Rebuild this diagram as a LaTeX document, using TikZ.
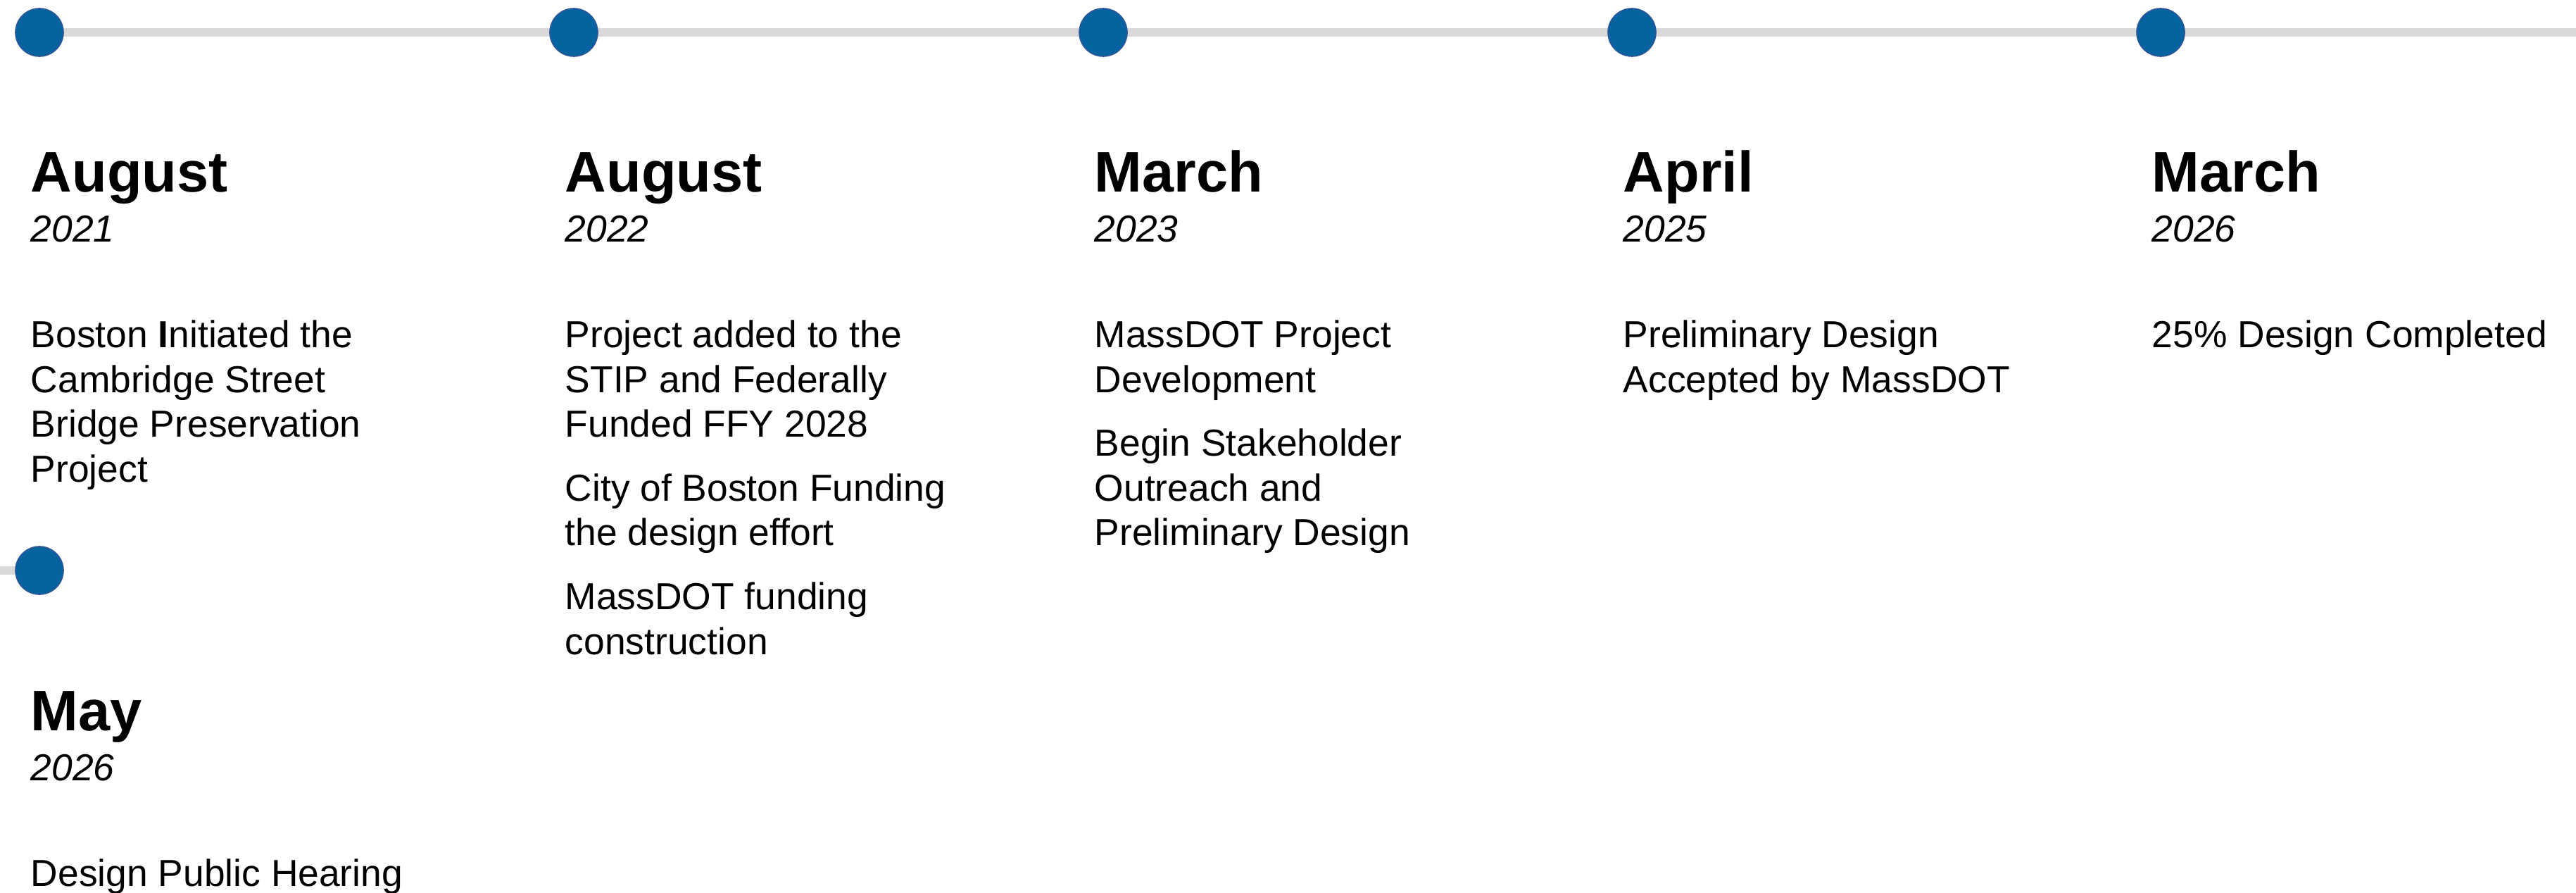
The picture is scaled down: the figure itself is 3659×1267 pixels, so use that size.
\documentclass[tikz,border=0pt]{standalone}
\usepackage{fontspec}
\setmainfont{Liberation Sans}
\usetikzlibrary{backgrounds}
\definecolor{dotblue}{HTML}{05639F}
\definecolor{dotrim}{HTML}{2F5597}
\definecolor{trackgray}{HTML}{D9D9D9}
\tikzset{
  milestone/.style={circle,fill=dotblue,draw=dotrim,line width=0.4pt,minimum size=17pt,inner sep=0pt},
  track/.style={trackgray,line width=3pt},
  month/.style={anchor=base west,inner sep=0pt,font=\fontsize{20.3}{24}\selectfont\bfseries},
  yr/.style={anchor=base west,inner sep=0pt,font=\fontsize{13.35}{16}\selectfont\itshape},
  note/.style={anchor=north west,inner sep=0pt,align=left,font=\fontsize{13.35}{15.9}\selectfont}
}
\begin{document}
\begin{tikzpicture}[x=0.25pt,y=0.25pt]
   \useasboundingbox (0,0) rectangle (3659,1267);
   % milestones
   \node[milestone] (d1) at (56,1221) {};
   \node[milestone] (d2) at (815,1221) {};
   \node[milestone] (d3) at (1567,1221) {};
   \node[milestone] (d4) at (2318,1221) {};
   \node[milestone] (d5) at (3069,1221) {};
   \node[milestone] (d6) at (56,457) {};
   \coordinate (trackend) at (3659,1221);
   \coordinate (trackstart) at (0,457);
   \begin{pgfonlayer}{background}
     \draw[track] (d1.center) -- (d2.center) -- (d3.center) -- (d4.center) -- (d5.center) -- (trackend);
     \draw[track] (trackstart) -- (d6.center);
   \end{pgfonlayer}
   % months and years
   \node[month] (m1) at (43,995) {August};
   \node[yr] (y1) at (43,924) {2021};
   \node[month] (m2) at (802,995) {August};
   \node[yr] (y2) at (802,924) {2022};
   \node[month] (m3) at (1554,995) {March};
   \node[yr] (y3) at (1554,924) {2023};
   \node[month] (m4) at (2305,995) {April};
   \node[yr] (y4) at (2305,924) {2025};
   \node[month] (m5) at (3056,995) {March};
   \node[yr] (y5) at (3056,924) {2026};
   \node[month] (m6) at (43,230) {May};
   \node[yr] (y6) at (43,159) {2026};
   % notes
   \node[note] (n1) at (43,813) {Boston \textbf{I}nitiated the\\Cambridge Street\\Bridge Preservation\\Project};
   \node[note] (n2) at (802,813) {Project added to the\\STIP and Federally\\Funded FFY 2028\\[6.75pt]City of Boston Funding\\the design effort\\[6.75pt]MassDOT funding\\construction};
   \node[note] (n3) at (1554,813) {MassDOT Project\\Development\\[6.75pt]Begin Stakeholder\\Outreach and\\Preliminary Design};
   \node[note] (n4) at (2305,813) {Preliminary Design\\Accepted by MassDOT};
   \node[note] (n5) at (3056,813) {25\% Design Completed};
   \node[note] (n6) at (43,48) {Design Public Hearing};
\end{tikzpicture}
\end{document}
